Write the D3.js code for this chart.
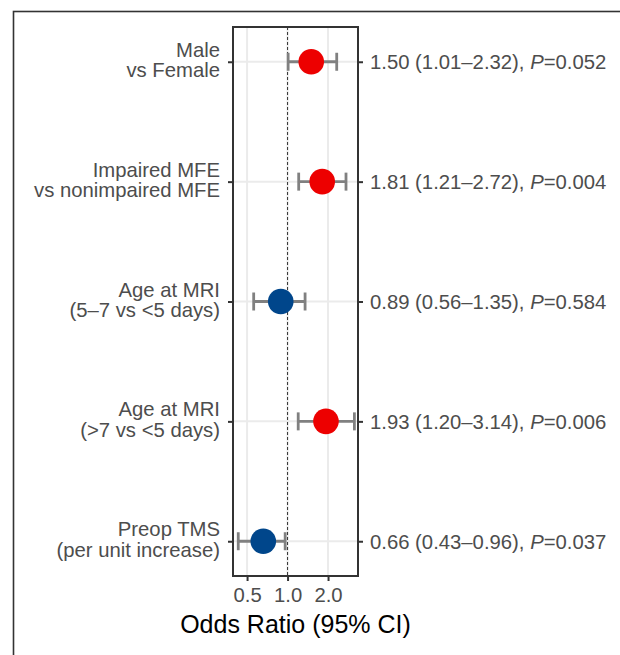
<!DOCTYPE html>
<meta charset="utf-8">
<style>
body { margin: 0; background: #fff; }
text { font-family: "Liberation Sans", Arial, Helvetica, sans-serif; }
.grid line { stroke: #ebebeb; stroke-width: 2px; }
.tick-lbl { fill: #4d4d4d; font-size: 20.3px; }
</style>
<svg width="620" height="655"></svg>
<script src="https://cdn.jsdelivr.net/npm/d3@7"></script>
<script>

// data
var line1 = ["Male", "Impaired MFE", "Age at MRI", "Age at MRI", "Preop TMS"];
var line2 = ["vs Female", "vs nonimpaired MFE", "(5\u20137 vs <5 days)", "(>7 vs <5 days)", "(per unit increase)"];
var oddsRatio = [1.50, 1.81, 0.89, 1.93, 0.66];
var ciLow = [1.01, 1.21, 0.56, 1.20, 0.43];
var ciHigh = [2.32, 2.72, 1.35, 3.14, 0.96];
var pValue = ["0.052", "0.004", "0.584", "0.006", "0.037"];
var xTicks = [0.5, 1.0, 2.0];
var xDomain = [0.393, 3.34];

var rows = oddsRatio.map(function(d, i) {
  return {id: i, a: line1[i], b: line2[i], or: d, lo: ciLow[i], hi: ciHigh[i], p: pValue[i]};
});

var svg = d3.select("svg"),
    panel = {left: 233, right: 358, top: 27, bottom: 576};

// outer frame, runs off the picture to the right and bottom
svg.append("rect")
  .attr("x", 13.5).attr("y", 11.5)
  .attr("width", 800).attr("height", 800)
  .attr("fill", "none").attr("stroke", "#333").attr("stroke-width", 1.6);

var x = d3.scaleLog().domain(xDomain).range([panel.left, panel.right]);
var y = d3.scalePoint().domain(rows.map(function(d) { return d.id; }))
    .range([panel.top, panel.bottom]).padding(0.29);

var grid = svg.append("g").attr("class", "grid");
grid.selectAll(".gx").data(xTicks).enter().append("line")
  .attr("x1", function(d) { return x(d); }).attr("x2", function(d) { return x(d); })
  .attr("y1", panel.top).attr("y2", panel.bottom);
grid.selectAll(".gy").data(rows).enter().append("line")
  .attr("x1", panel.left).attr("x2", panel.right)
  .attr("y1", function(d) { return y(d.id); }).attr("y2", function(d) { return y(d.id); });

// reference line at OR = 1
svg.append("line")
  .attr("x1", x(1)).attr("x2", x(1))
  .attr("y1", panel.top).attr("y2", panel.bottom)
  .attr("stroke", "#333").attr("stroke-width", 1)
  .attr("stroke-dasharray", "3,2");

// error bars
var bars = svg.selectAll(".bar").data(rows).enter().append("g")
  .attr("stroke", "#808080").attr("stroke-width", 2.8);
bars.append("line")
  .attr("x1", function(d) { return x(d.lo); }).attr("x2", function(d) { return x(d.hi); })
  .attr("y1", function(d) { return y(d.id); }).attr("y2", function(d) { return y(d.id); });
bars.append("line")
  .attr("x1", function(d) { return x(d.lo); }).attr("x2", function(d) { return x(d.lo); })
  .attr("y1", function(d) { return y(d.id) - 9; }).attr("y2", function(d) { return y(d.id) + 9; });
bars.append("line")
  .attr("x1", function(d) { return x(d.hi); }).attr("x2", function(d) { return x(d.hi); })
  .attr("y1", function(d) { return y(d.id) - 9; }).attr("y2", function(d) { return y(d.id) + 9; });

svg.selectAll(".pt").data(rows).enter().append("circle")
  .attr("cx", function(d) { return x(d.or); })
  .attr("cy", function(d) { return y(d.id); })
  .attr("r", 12.8)
  .attr("fill", function(d) { return d.or > 1 ? "#ed0000" : "#00468b"; });

// panel border
svg.append("rect")
  .attr("x", panel.left).attr("y", panel.top)
  .attr("width", panel.right - panel.left).attr("height", panel.bottom - panel.top)
  .attr("fill", "none").attr("stroke", "#333").attr("stroke-width", 2);

// axes
var xAxis = svg.append("g")
  .attr("transform", "translate(0," + panel.bottom + ")")
  .call(d3.axisBottom(x).tickValues(xTicks).tickFormat(d3.format(".1f")).tickSize(5).tickPadding(4));
var yLeft = svg.append("g")
  .attr("transform", "translate(" + panel.left + ",0)")
  .call(d3.axisLeft(y).tickSize(5).tickFormat(""));
var yRight = svg.append("g")
  .attr("transform", "translate(" + panel.right + ",0)")
  .call(d3.axisRight(y).tickSize(5).tickFormat(""));

[xAxis, yLeft, yRight].forEach(function(a) {
  a.select(".domain").remove();
  a.selectAll(".tick line").attr("stroke", "#333").attr("stroke-width", 2);
});
xAxis.selectAll(".tick text").attr("class", "tick-lbl").attr("font-family", null).attr("font-size", null)
  .attr("dy", "0.85em");

// left labels, two lines each
var lbl = svg.selectAll(".lbl").data(rows).enter().append("text")
  .attr("class", "tick-lbl")
  .attr("text-anchor", "end");
lbl.append("tspan")
  .attr("x", 220).attr("y", function(d) { return y(d.id) - 5; })
  .text(function(d) { return d.a; });
lbl.append("tspan")
  .attr("x", 220).attr("y", function(d) { return y(d.id) + 15.5; })
  .text(function(d) { return d.b; });

// right labels
var rl = svg.selectAll(".rl").data(rows).enter().append("text")
  .attr("class", "tick-lbl")
  .attr("x", 370)
  .attr("y", function(d) { return y(d.id); })
  .attr("dy", "0.36em");
rl.append("tspan").text(function(d) {
  return d3.format(".2f")(d.or) + " (" + d3.format(".2f")(d.lo) + "\u2013" + d3.format(".2f")(d.hi) + "), ";
});
rl.append("tspan").attr("font-style", "italic").text("P");
rl.append("tspan").text(function(d) { return "=" + d.p; });

svg.append("text")
  .attr("x", (panel.left + panel.right) / 2)
  .attr("y", 633)
  .attr("text-anchor", "middle")
  .attr("font-size", "25px")
  .attr("fill", "#000")
  .text("Odds Ratio (95% CI)");

</script>
